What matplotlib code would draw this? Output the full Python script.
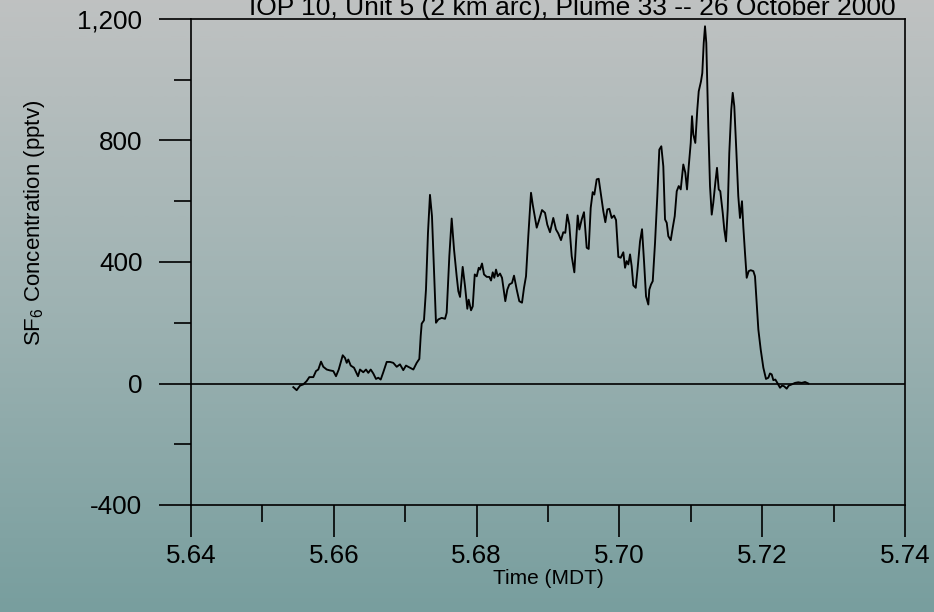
import numpy as np
import matplotlib
matplotlib.use("Agg")
import matplotlib.pyplot as plt
from matplotlib.colors import LinearSegmentedColormap
from matplotlib.ticker import MultipleLocator, FuncFormatter

# ---- data ----
times = [5.65433, 5.65480, 5.65527, 5.65573, 5.65620, 5.65657, 5.65713, 5.65751,
         5.65783, 5.65821, 5.65853, 5.65901, 5.65947, 5.65993, 5.66031, 5.66069,
         5.66125, 5.66157, 5.66181, 5.66203, 5.66237, 5.66283, 5.66339, 5.66367,
         5.66413, 5.66451, 5.66483, 5.66517, 5.66553, 5.66591, 5.66623, 5.66657,
         5.66693, 5.66741, 5.66787, 5.66833, 5.66881, 5.66927, 5.66973, 5.67011,
         5.67067, 5.67114, 5.67161, 5.67198, 5.67217, 5.67231, 5.67263, 5.67291,
         5.67319, 5.67347, 5.67375, 5.67403, 5.67431, 5.67464, 5.67511, 5.67558,
         5.67581, 5.67618, 5.67651, 5.67684, 5.67721, 5.67744, 5.67768,
         5.67805, 5.67838, 5.67870, 5.67889, 5.67922, 5.67946, 5.67974, 5.68002,
         5.68030, 5.68048, 5.68076, 5.68104, 5.68142, 5.68178, 5.68202, 5.68226,
         5.68248, 5.68272, 5.68296, 5.68328, 5.68356, 5.68402, 5.68430, 5.68458,
         5.68496, 5.68524, 5.68562, 5.68598, 5.68636, 5.68664, 5.68692, 5.68724,
         5.68762, 5.68786, 5.68814, 5.68842, 5.68870, 5.68916, 5.68958, 5.68990,
         5.69028, 5.69074, 5.69112, 5.69144, 5.69182, 5.69214, 5.69242, 5.69270,
         5.69298, 5.69332, 5.69369, 5.69392, 5.69416, 5.69439, 5.69472, 5.69504,
         5.69542, 5.69570, 5.69598, 5.69626, 5.69649, 5.69682, 5.69710, 5.69738,
         5.69775, 5.69803, 5.69831, 5.69859, 5.69892, 5.69925, 5.69953, 5.69985,
         5.70018, 5.70055, 5.70079, 5.70102, 5.70125, 5.70149, 5.70172, 5.70195,
         5.70229, 5.70256, 5.70289, 5.70317, 5.70345, 5.70373, 5.70405,
         5.70419, 5.70443, 5.70467, 5.70499, 5.70531, 5.70559, 5.70587, 5.70615,
         5.70639, 5.70663, 5.70685, 5.70719, 5.70747, 5.70775, 5.70803, 5.70831,
         5.70859, 5.70895, 5.70923, 5.70947, 5.70971, 5.70999, 5.71017, 5.71035,
         5.71063, 5.71091, 5.71111, 5.71143, 5.71161, 5.71181, 5.71199, 5.71217,
         5.71245, 5.71269, 5.71293, 5.71315, 5.71343, 5.71367, 5.71391, 5.71413,
         5.71447, 5.71469, 5.71493, 5.71517, 5.71539, 5.71567, 5.71587, 5.71609,
         5.71637, 5.71665, 5.71689, 5.71717, 5.71735, 5.71759, 5.71783, 5.71811,
         5.71839, 5.71876, 5.71899, 5.71923, 5.71946, 5.71979, 5.72016, 5.72053,
         5.72086, 5.72109, 5.72133, 5.72156, 5.72184, 5.72212, 5.72250, 5.72278,
         5.72306, 5.72343, 5.72371, 5.72413, 5.72460, 5.72506, 5.72553, 5.72600,
         5.72646]

sf6 = [-12, -22, -7, -3, 8, 21, 21, 41,
       46, 72, 55, 46, 43, 41, 24, 46,
       93, 84, 68, 79, 59, 52, 24, 46,
       37, 46, 35, 46, 33, 15, 19, 13,
       37, 71, 71, 68, 55, 63, 44, 59,
       52, 46, 68, 81, 156, 197, 208, 309,
       496, 621, 551, 375, 200, 211, 216, 213,
       233, 419, 543, 441, 353, 304, 285,
       384, 320, 246, 276, 241, 254, 359, 353,
       381, 375, 395, 359, 351, 351, 339, 366,
       348, 375, 353, 362, 348, 271, 309, 326,
       331, 355, 309, 271, 266, 315, 353, 485,
       628, 589, 551, 513, 534, 571, 562, 523,
       498, 545, 507, 494, 472, 498, 496, 556,
       523, 419, 366, 463, 553, 507, 540, 564,
       447, 443, 578, 630, 622, 672, 674, 628,
       567, 531, 573, 575, 545, 553, 538, 417,
       414, 432, 381, 403, 392, 425, 386, 323,
       315, 381, 468, 508, 402, 287, 260,
       309, 326, 337, 463, 617, 770, 781, 715,
       540, 529, 485, 472, 513, 551, 633, 650,
       639, 721, 694, 639, 715, 792, 880, 820,
       792, 902, 962, 995, 1022, 1121, 1176, 1121,
       847, 650, 556, 595, 660, 710, 639, 633,
       562, 507, 468, 573, 759, 902, 957, 913,
       770, 617, 545, 600, 518, 430, 348, 370,
       373, 370, 353, 266, 178, 112, 52, 15,
       19, 33, 30, 11, 13, 2, -14, -7,
       -9, -17, -7, -3, 2, 4, 2, 5,
       0]

x_ticks = [5.64, 5.66, 5.68, 5.70, 5.72, 5.74]
y_ticks = [-400, 0, 400, 800, 1200]
title = "IOP 10, Unit 5 (2 km arc), Plume 33 -- 26 October 2000"
x_label = "Time (MDT)"
y_label = "SF$_6$ Concentration (pptv)"

# ---- style ----
plt.rcParams["font.family"] = ["Liberation Sans", "DejaVu Sans"]
plt.rcParams["mathtext.fontset"] = "custom"
plt.rcParams["mathtext.rm"] = "Liberation Sans"
plt.rcParams["mathtext.it"] = "Liberation Sans"
plt.rcParams["mathtext.bf"] = "Liberation Sans"
plt.rcParams["mathtext.default"] = "regular"

W, H = 934, 612
fig = plt.figure(figsize=(W / 100, H / 100), dpi=100)

# gradient background
bg = fig.add_axes([0, 0, 1, 1], zorder=-10)
cmap = LinearSegmentedColormap.from_list(
    "bg", [(0.75, 0.76, 0.76), (0.62, 0.70, 0.70), (0.47, 0.62, 0.62)])
bg.imshow(np.linspace(0, 1, 512)[:, None], aspect="auto", cmap=cmap,
          extent=[0, 1, 0, 1])
bg.axis("off")

left, right, top, bottom = 191, 905, 19, 505
ax = fig.add_axes([left / W, 1 - bottom / H, (right - left) / W, (bottom - top) / H])
ax.patch.set_alpha(0)

ax.plot(times, sf6, color="black", lw=1.35)
ax.axhline(0, color="black", lw=1.2)

ax.set_xlim(x_ticks[0], x_ticks[-1])
ax.set_ylim(y_ticks[0], y_ticks[-1])
ax.set_xticks(x_ticks)
ax.set_yticks(y_ticks)
ax.xaxis.set_minor_locator(MultipleLocator(0.01))
ax.yaxis.set_minor_locator(MultipleLocator(200))
ax.xaxis.set_major_formatter(FuncFormatter(lambda v, p: f"{v:.2f}"))
ax.yaxis.set_major_formatter(FuncFormatter(lambda v, p: f"{v:,.0f}"))

for s in ax.spines.values():
    s.set_linewidth(1.2)
    s.set_color("black")

ax.tick_params(axis="both", which="major", direction="out", length=23,
               width=1.2, labelsize=18.7, colors="black")
ax.tick_params(axis="both", which="minor", direction="out", length=12,
               width=1.2)
ax.tick_params(axis="y", which="major", pad=12)
ax.tick_params(axis="x", which="major", pad=5)

fig.text(572 / W, 1 - 15 / H, title, ha="center", va="baseline", fontsize=19)
fig.text(548 / W, 1 - 578 / H, x_label, ha="center", va="center", fontsize=15)
fig.text(35 / W, 1 - 223 / H, y_label, ha="center", va="center",
         rotation=90, fontsize=16)

fig.savefig("out.png", dpi=100)
